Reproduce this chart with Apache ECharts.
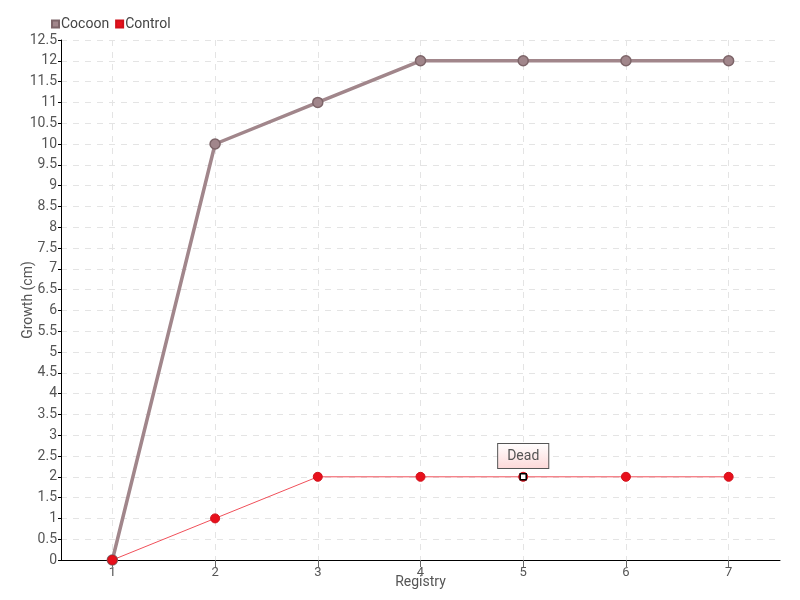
<!DOCTYPE html>
<html><head><meta charset="utf-8">
<script src="https://cdn.jsdelivr.net/npm/echarts@6/dist/echarts.min.js"></script>
<style>html,body{margin:0;padding:0;background:#fff}#c{width:800px;height:600px}</style>
</head><body><div id="c"></div>
<script>
const categories = [1, 2, 3, 4, 5, 6, 7];
const cocoon = [0, 10, 11, 12, 12, 12, 12];
const control = [0, 1, 2, 2, 2, 2, 2];
const deadPoint = {label: 'Dead', category: 5, value: 2};
const FONT = 'Roboto, "Liberation Sans Narrow", sans-serif';
const pairs = (vals) => categories.map((c, i) => [c, vals[i]]);
const chart = echarts.init(document.getElementById('c'));
chart.setOption({
  animation: false,
  textStyle: {fontFamily: FONT},
  legend: {
    left: 46, top: 12, itemWidth: 7, itemHeight: 7, itemGap: 6,
    icon: 'rect',
    textStyle: {fontFamily: FONT, fontSize: 14, color: '#444', padding: [0,0,0,-3]},
    data: ['Cocoon', 'Control']
  },
  grid: {left: 61, right: 20, top: 40, bottom: 40, outerBoundsMode: 'none', containLabel: false},
  xAxis: {
    type: 'value', min: 0.5, max: 7.5,
    name: 'Registry', nameLocation: 'middle', nameGap: 15, nameMoveOverlap: false,
    nameTextStyle: {fontFamily: FONT, fontSize: 14, color: '#555'},
    axisLine: {lineStyle: {color: '#000', width: 1}},
    axisTick: {show: true, length: 7, customValues: categories, lineStyle: {color: '#666'}},
    axisLabel: {fontFamily: FONT, fontSize: 13, color: '#555', margin: 6, customValues: categories},
    splitLine: {show: true, lineStyle: {type: [6, 6], color: '#e4e4e4'}}
  },
  yAxis: {
    type: 'value', min: 0, max: 12.5, interval: 0.5,
    name: 'Growth (cm)', nameLocation: 'middle', nameGap: 26, nameMoveOverlap: false,
    nameTextStyle: {fontFamily: FONT, fontSize: 14, color: '#555'},
    axisLine: {show: true, lineStyle: {color: '#000', width: 1}},
    axisTick: {show: true, length: 3, lineStyle: {color: '#000'}},
    axisLabel: {fontFamily: FONT, fontSize: 14, color: '#555', margin: 4,
      formatter: (v) => String(v)},
    splitLine: {show: true, lineStyle: {type: [6, 6], color: '#e4e4e4'}}
  },
  series: [
    {
      name: 'Cocoon', type: 'line', data: pairs(cocoon),
      color: '#a1868b',
      lineStyle: {width: 3.5, color: '#a1868b'},
      symbol: 'circle', symbolSize: 10,
      itemStyle: {color: '#a1868b', borderColor: '#7d6569', borderWidth: 1.5}
    },
    {
      name: 'Control', type: 'line', data: pairs(control),
      color: '#e8101c',
      lineStyle: {width: 1, color: '#f0505a'},
      symbol: 'circle', symbolSize: 9,
      itemStyle: {color: '#e8101c', borderColor: '#d0101a', borderWidth: 1},
      markPoint: {
        symbol: 'rect', symbolSize: 6,
        itemStyle: {color: '#fff', borderColor: '#000', borderWidth: 1.5},
        label: {
          show: true, position: 'top', distance: 5,
          formatter: deadPoint.label,
          fontFamily: FONT, fontSize: 14, color: '#555',
          padding: [5, 9, 5, 9],
          borderColor: '#555', borderWidth: 1,
          backgroundColor: {type: 'linear', x: 0, y: 0, x2: 0, y2: 1,
            colorStops: [{offset: 0, color: '#ffffff'}, {offset: 1, color: '#fdd8d8'}]}
        },
        data: [{coord: [deadPoint.category, deadPoint.value], value: deadPoint.label}]
      }
    }
  ]
});
</script></body></html>
